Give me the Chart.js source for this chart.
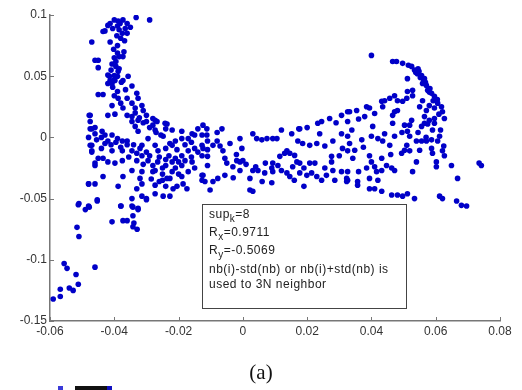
<!DOCTYPE html>
<html>
<head>
<meta charset="utf-8">
<script src="https://cdn.jsdelivr.net/npm/chart.js@4.4.1/dist/chart.umd.min.js"></script>
<style>
  html, body { margin: 0; padding: 0; background: #fff; }
  #wrap { width: 522px; height: 390px; position: relative; }
</style>
</head>
<body>
<div id="wrap"><canvas id="grafico"></canvas></div>
<script>
// ticks
const xTicks = [-0.06, -0.04, -0.02, 0, 0.02, 0.04, 0.06, 0.08];
const yTicks = [-0.15, -0.1, -0.05, 0, 0.05, 0.1];

// brazo superior izquierdo
const leftArm = [
  [-0.0332,0.098],[-0.029,0.096],[-0.040,0.096],[-0.0388,0.095],[-0.0373,0.096],[-0.036,0.093],
  [-0.0366,0.089],[-0.036,0.085],[-0.038,0.081],[-0.042,0.0915],[-0.0429,0.087],[-0.0435,0.0865],
  [-0.0413,0.093],[-0.039,0.091],[-0.0375,0.085],[-0.047,0.078],[-0.0413,0.078],[-0.039,0.075],
  [-0.039,0.069],[-0.0373,0.066],[-0.040,0.065],[-0.046,0.063],[-0.045,0.063],[-0.045,0.057],
  [-0.0407,0.060],[-0.042,0.051],[-0.040,0.0505],[-0.0413,0.0465],[-0.042,0.044],[-0.0407,0.044],
  [-0.0398,0.0465],[-0.039,0.050],[-0.0373,0.0465],[-0.0357,0.050],[-0.0345,0.042],[-0.033,0.036],
  [-0.036,0.032],[-0.045,0.035],[-0.0435,0.035],[-0.040,0.034],[-0.039,0.0375],[-0.0388,0.032],
  [-0.038,0.028],[-0.0407,0.026],[-0.0373,0.024],[-0.0398,0.019],[-0.042,0.018],[-0.0475,0.018],
  [-0.036,0.018],[-0.0326,0.032],[-0.0314,0.026],[-0.031,0.022],[-0.030,0.018],[-0.028,0.0155],
  [-0.0267,0.013],[-0.0242,0.0115],[-0.0345,0.017],[-0.0402,0.072],[-0.0395,0.062],[-0.0385,0.056],
  [-0.041,0.055],[-0.0405,0.041],[-0.0365,0.039],[-0.0345,0.028],[-0.0335,0.024],[-0.0385,0.088],
  [-0.0395,0.058],[-0.0388,0.054],[-0.040,0.047],[-0.0378,0.045],[-0.0415,0.050],[-0.037,0.070],
  [-0.0385,0.066],[-0.0392,0.083],[-0.0405,0.089],[-0.0382,0.093],[-0.035,0.090],[-0.0368,0.079],
  [-0.0335,0.020],[-0.0322,0.016],[-0.031,0.012],[-0.029,0.008],[-0.027,0.004],[-0.0255,0.002]
];

// banda central izquierda
const bandLeft = [
  [-0.0475,0.013],[-0.047,0.007],[-0.046,0.003],[-0.0438,0.005],[-0.0429,0.002],[-0.0407,0.002],
  [-0.039,-0.001],[-0.0375,-0.003],[-0.036,-0.006],[-0.0345,-0.011],[-0.033,-0.013],[-0.0314,-0.015],
  [-0.0295,-0.019],[-0.028,-0.023],[-0.0273,-0.027],[-0.025,-0.025],[-0.024,-0.023],[-0.022,-0.020],
  [-0.021,-0.017],[-0.019,-0.015],[-0.017,-0.011],[-0.015,-0.009],[-0.0127,-0.0065],[-0.0127,0.002],
  [-0.0158,0.003],[-0.019,-0.001],[-0.021,-0.003],[-0.022,-0.0065],[-0.024,-0.009],[-0.0264,-0.011],
  [-0.0345,0.013],[-0.0335,0.009],[-0.0326,0.005],[-0.030,0.013],[-0.028,0.010],[-0.0273,0.006],
  [-0.0236,0.011],[-0.022,0.006],[-0.019,0.005],[-0.047,-0.0065],[-0.047,-0.011],[-0.0429,-0.005],
  [-0.045,-0.017],[-0.0435,-0.017],[-0.042,-0.020],[-0.0398,-0.021],[-0.046,-0.023],[-0.048,-0.038],
  [-0.046,-0.038],[-0.0435,-0.032],[-0.0388,-0.040],[-0.0373,-0.032],[-0.033,-0.042],[-0.032,-0.0335],
  [-0.0314,-0.048],[-0.0345,-0.050],[-0.030,-0.050],[-0.0273,-0.039],[-0.025,-0.035],[-0.0236,-0.0335],
  [-0.0227,-0.0335],[-0.024,-0.040],[-0.0273,-0.046],[-0.0248,-0.048],[-0.0227,-0.048],[-0.0217,-0.042],
  [-0.0205,-0.040],[-0.0186,-0.038],[-0.0174,-0.042],[-0.019,-0.032],[-0.0314,-0.038],[-0.028,-0.028],
  [-0.017,-0.001],[-0.015,0.002],[-0.014,0.007],[-0.0124,0.010],[-0.0127,-0.015],[-0.0158,-0.020],
  [-0.019,-0.023],[-0.022,-0.028],[-0.0127,-0.031],[-0.0127,-0.035],[-0.0273,-0.0065],[-0.0295,-0.001],
  [-0.0314,-0.0065],[-0.0375,-0.011],[-0.0407,-0.011],[-0.0375,-0.019],[-0.0314,-0.028],[-0.0345,-0.027],
  [-0.024,0.007],[-0.0273,0.014],[-0.0326,0.014],[-0.0227,-0.005],[-0.0248,0.001],[-0.0478,0.018],
  [-0.0475,0.007],[-0.048,0.0],[-0.0475,-0.0065],[-0.047,-0.012],[-0.046,-0.021],[-0.048,-0.038],
  [-0.0455,-0.002],[-0.044,-0.009],[-0.041,-0.006],[-0.038,-0.008],[-0.0355,-0.016],[-0.033,-0.019],
  [-0.031,-0.022],[-0.0265,-0.020],[-0.023,-0.015],[-0.0205,-0.010],[-0.018,-0.006],[-0.016,-0.004],
  [-0.046,0.008],[-0.044,0.0],[-0.042,-0.003],[-0.0395,-0.004],[-0.036,-0.003],[-0.034,-0.006],
  [-0.032,-0.009],[-0.030,-0.012],[-0.029,-0.015],[-0.026,-0.016],[-0.024,-0.018],[-0.020,-0.020],
  [-0.018,-0.019],[-0.016,-0.016],[-0.014,-0.012],[-0.011,-0.010],[-0.025,-0.030],[-0.021,-0.025],
  [-0.020,-0.030],[-0.017,-0.028],[-0.015,-0.025],[-0.026,-0.036],[-0.0285,-0.034]
];

// banda central derecha
const bandMid = [
  [-0.0112,0.002],[-0.011,-0.003],[-0.0124,-0.009],[-0.0093,-0.0065],[-0.008,-0.003],[-0.0071,-0.007],
  [-0.0062,-0.011],[-0.0065,0.007],[-0.0112,0.007],[-0.004,-0.005],[-0.0009,-0.001],[-0.0003,-0.009],
  [-0.0019,-0.019],[0.0,-0.019],[-0.0009,-0.027],[-0.005,-0.021],[-0.0056,-0.031],[-0.0078,-0.0335],
  [-0.0093,-0.036],[-0.011,-0.023],[-0.011,-0.0155],[-0.0124,-0.031],[-0.0102,-0.043],[0.0022,-0.0335],
  [0.0022,-0.043],[0.0031,-0.044],[0.0031,-0.027],[0.0047,-0.027],[0.0068,-0.029],[0.009,-0.025],
  [0.0093,-0.028],[0.0109,-0.023],[0.012,-0.027],[0.0137,-0.029],[0.0146,-0.032],[0.0115,-0.0155],
  [0.013,-0.013],[0.0146,-0.013],[0.0161,-0.0147],[0.0168,-0.020],[0.0177,-0.021],[0.0208,-0.021],
  [0.0224,-0.021],[0.0177,-0.029],[0.0199,-0.031],[0.0214,-0.029],[0.023,-0.032],[0.0245,-0.035],
  [0.0286,-0.035],[0.028,-0.027],[0.0307,-0.028],[0.0323,-0.0335],[0.0323,-0.036],[0.0276,-0.020],
  [0.0276,-0.0155],[0.030,-0.015],[0.031,-0.009],[0.028,-0.003],[0.0255,-0.007],[0.023,-0.005],
  [0.0208,-0.0065],[0.0186,-0.005],[0.0171,-0.003],[0.0152,0.003],[0.0177,0.007],[0.0106,-0.001],
  [0.0093,-0.001],[0.0075,-0.001],[0.0059,-0.002],[0.0043,-0.001],[0.0031,0.003],[0.0239,0.003],
  [0.0233,0.0115],[0.0245,0.013],[0.0307,0.003],[-0.0009,-0.020],[0.0093,-0.021],[0.0137,-0.011],
  [-0.0056,-0.017],[-0.0031,-0.024],[-0.0118,-0.036],[0.027,0.0155],[0.0307,0.018],[0.0326,0.021],
  [0.0174,0.007],[0.012,0.006],[-0.008,0.004],[0.006,-0.036],[0.019,-0.040],[-0.003,-0.033],
  [0.001,-0.022],[0.004,-0.024],[0.007,-0.021],[0.0155,-0.024],[0.019,-0.025],[0.0255,-0.025],
  [0.026,-0.031],[0.016,-0.035],[0.009,-0.037],[-0.002,-0.014],[0.020,0.008],[0.029,0.012],[0.036,0.015]
];

// brazo derecho
const rightArm = [
  [0.0326,0.013],[0.0339,0.006],[0.0326,0.001],[0.0332,-0.005],[0.0326,-0.011],[0.0348,-0.0105],
  [0.0342,-0.017],[0.0326,-0.028],[0.0326,-0.035],[0.0357,-0.036],[0.0357,-0.039],[0.0394,-0.042],
  [0.041,-0.042],[0.0432,-0.044],[0.037,-0.002],[0.040,0.001],[0.0404,0.009],[0.042,-0.001],
  [0.0435,-0.003],[0.0441,0.003],[0.0457,-0.0065],[0.0472,0.001],[0.0466,0.0115],[0.0503,0.010],
  [0.0512,0.005],[0.0519,0.001],[0.0494,-0.013],[0.0503,-0.0105],[0.0519,-0.011],[0.051,-0.0065],
  [0.054,-0.003],[0.0556,-0.003],[0.0571,-0.003],[0.0587,-0.002],[0.0606,-0.003],[0.0612,0.001],
  [0.055,-0.0105],[0.0587,-0.009],[0.059,-0.013],[0.0621,-0.011],[0.0627,-0.015],[0.0602,-0.020],
  [0.0602,-0.024],[0.0649,-0.023],[0.0742,-0.023],[0.0668,-0.0335],[0.0528,-0.028],[0.0394,-0.015],
  [0.040,-0.020],[0.0385,-0.025],[0.041,-0.024],[0.0416,-0.028],[0.0432,-0.027],[0.0432,-0.017],
  [0.0447,-0.023],[0.0463,-0.025],[0.0472,-0.027],[0.042,-0.035],[0.0394,-0.0335],[0.0481,-0.047],
  [0.0497,-0.048],[0.0512,-0.046],[0.0534,-0.050],[0.0612,-0.048],[0.0621,-0.050],[0.0665,-0.052],
  [0.068,-0.0555],[0.0696,-0.056],[0.0463,-0.047],[0.0556,0.009],[0.0565,0.0115],[0.058,0.014],
  [0.0519,0.010],[0.0596,0.0115],[0.059,0.006],[0.0525,0.014],[0.0735,-0.021],
  [0.040,0.067],[0.0466,0.062],[0.0478,0.062],[0.0497,0.0605],[0.0525,0.058],[0.0534,0.055],
  [0.0543,0.052],[0.0556,0.0505],[0.0565,0.048],[0.0559,0.044],[0.0571,0.0425],[0.0575,0.0385],
  [0.0587,0.036],[0.0596,0.0335],[0.0512,0.048],[0.0512,0.0375],[0.0528,0.0385],[0.0528,0.034],
  [0.0606,0.028],[0.0618,0.025],[0.0621,0.021],[0.0627,0.0155],[0.0596,0.024],[0.058,0.026],
  [0.0571,0.022],[0.0565,0.017],[0.0596,0.0155],[0.0559,0.030],[0.051,0.032],[0.0497,0.0295],
  [0.0481,0.030],[0.0472,0.034],[0.0457,0.032],[0.0441,0.030],[0.0432,0.0295],[0.0435,0.025],
  [0.0472,0.021],[0.0481,0.022],[0.0466,0.018],[0.0385,0.025],[0.0394,0.024],[0.0379,0.017],
  [0.0354,0.022],[0.0332,0.021],[0.041,0.0195],[0.0548,0.054],[0.0562,0.046],[0.0582,0.040],
  [0.0592,0.030],[0.0575,0.011],[0.0545,0.004],
  [0.0538,0.053],[0.0552,0.049],[0.0568,0.045],[0.0545,0.056],[0.0515,0.059],[0.058,0.037],
  [0.0605,0.031],[0.055,0.025],[0.061,0.019],[0.0615,0.006],[0.057,0.0],[0.0495,0.004],
  [0.046,-0.014],[0.054,-0.020],[0.0625,-0.007],[0.036,-0.028],[0.0375,-0.008]
];

// cola inferior izquierda
const lowerTail = [
  [-0.059,-0.132],[-0.0568,-0.130],[-0.0568,-0.124],[-0.054,-0.123],[-0.0528,-0.125],[-0.0512,-0.120],
  [-0.0519,-0.112],[-0.0556,-0.103],[-0.0547,-0.107],[-0.046,-0.106],[-0.0516,-0.0735],[-0.051,-0.081],
  [-0.0512,-0.055],[-0.049,-0.059],[-0.0478,-0.057],[-0.0453,-0.052],[-0.0379,-0.056],[-0.0407,-0.069],
  [-0.0373,-0.068],[-0.036,-0.068],[-0.0339,-0.070],[-0.0342,-0.073],[-0.0329,-0.075],[-0.0342,-0.064],
  [-0.0342,-0.057],[-0.0326,-0.059],[-0.030,-0.051],[-0.051,-0.054],[-0.048,-0.056],[-0.0453,-0.051],
  [-0.038,-0.056],[-0.0345,-0.056],[-0.0326,-0.058]
];

const dotColor = '#0000C8';
const serie = (pts) => ({
  data: pts.map(p => ({ x: p[0], y: p[1] })),
  backgroundColor: dotColor,
  borderColor: dotColor,
  borderWidth: 0,
  pointRadius: 2.8,
  pointHoverRadius: 2.8
});

const fmt = v => String(Math.round(v * 1000) / 1000);

// marcas hacia adentro, cuadro de texto, etiqueta (a)
const extras = {
  id: 'extras',
  afterDatasetsDraw(chart) {
    const c = chart.ctx, xs = chart.scales.x, ys = chart.scales.y, a = chart.chartArea;
    c.save();
    c.strokeStyle = '#777';
    c.lineWidth = 1;
    xTicks.forEach(v => {
      const px = Math.round(xs.getPixelForValue(v)) + 0.5;
      c.beginPath(); c.moveTo(px, a.bottom); c.lineTo(px, a.bottom - 4); c.stroke();
    });
    yTicks.forEach(v => {
      const py = Math.round(ys.getPixelForValue(v)) + 0.5;
      c.beginPath(); c.moveTo(a.left, py); c.lineTo(a.left + 4, py); c.stroke();
    });

    // cuadro
    c.fillStyle = '#fff';
    c.fillRect(202, 204, 204, 104);
    c.strokeStyle = '#444';
    c.strokeRect(202.5, 204.5, 204, 104);

    c.fillStyle = '#222';
    c.textBaseline = 'middle';
    c.textAlign = 'left';
    c.letterSpacing = '0.5px';
    const big = '12px "Liberation Sans", Arial, sans-serif';
    const small = '10px "Liberation Sans", Arial, sans-serif';
    const sub = (main, s, rest, x, y) => {
      c.font = big; c.fillText(main, x, y);
      let w = c.measureText(main).width;
      c.font = small; c.fillText(s, x + w, y + 4);
      w += c.measureText(s).width;
      c.font = big; c.fillText(rest, x + w, y);
    };
    sub('sup', 'k', '=8', 209, 215);
    sub('R', 'x', '=0.9711', 209, 233);
    sub('R', 'y', '=-0.5069', 209, 251);
    c.font = big;
    c.fillText('nb(i)-std(nb) or nb(i)+std(nb) is', 209, 270);
    c.fillText('used to 3N neighbor', 209, 285);

    c.letterSpacing = '0px';
    c.font = '21px "Liberation Serif", "Times New Roman", serif';
    c.textAlign = 'center';
    c.fillStyle = '#111';
    c.fillText('(a)', 261, 373);

    // recorte de la figura siguiente
    c.fillStyle = '#3a3ad8'; c.fillRect(58, 386, 5, 4);
    c.fillStyle = '#111'; c.fillRect(75, 386, 32, 4);
    c.fillStyle = '#1010c0'; c.fillRect(107, 386, 5, 4);
    c.restore();
  }
};

const ctx = document.getElementById('grafico');
new Chart(ctx, {
  type: 'scatter',
  data: {
    datasets: [serie(leftArm), serie(bandLeft), serie(bandMid), serie(rightArm), serie(lowerTail)]
  },
  options: {
    responsive: true,
    maintainAspectRatio: false,
    animation: false,
    events: [],
    layout: { padding: { top: 15, right: 22, left: 0, bottom: 0 } },
    plugins: { legend: { display: false }, tooltip: { enabled: false } },
    scales: {
      x: {
        type: 'linear',
        min: -0.06, max: 0.08,
        afterBuildTicks: s => { s.ticks = xTicks.map(v => ({ value: v })); },
        afterFit: s => { s.height = 69; },
        ticks: {
          color: '#333',
          padding: 3,
          maxRotation: 0,
          font: { family: '"Liberation Sans", Arial, sans-serif', size: 12 },
          callback: v => fmt(v)
        },
        grid: { drawOnChartArea: false, drawTicks: false },
        border: { color: '#777', width: 1.5 }
      },
      y: {
        type: 'linear',
        min: -0.15, max: 0.1,
        afterBuildTicks: s => { s.ticks = yTicks.map(v => ({ value: v })); },
        afterFit: s => { s.width = 50; },
        ticks: {
          color: '#333',
          padding: 3,
          font: { family: '"Liberation Sans", Arial, sans-serif', size: 12 },
          callback: v => fmt(v)
        },
        grid: { drawOnChartArea: false, drawTicks: false },
        border: { color: '#777', width: 1.5 }
      }
    }
  },
  plugins: [extras]
});
</script>
</body>
</html>
